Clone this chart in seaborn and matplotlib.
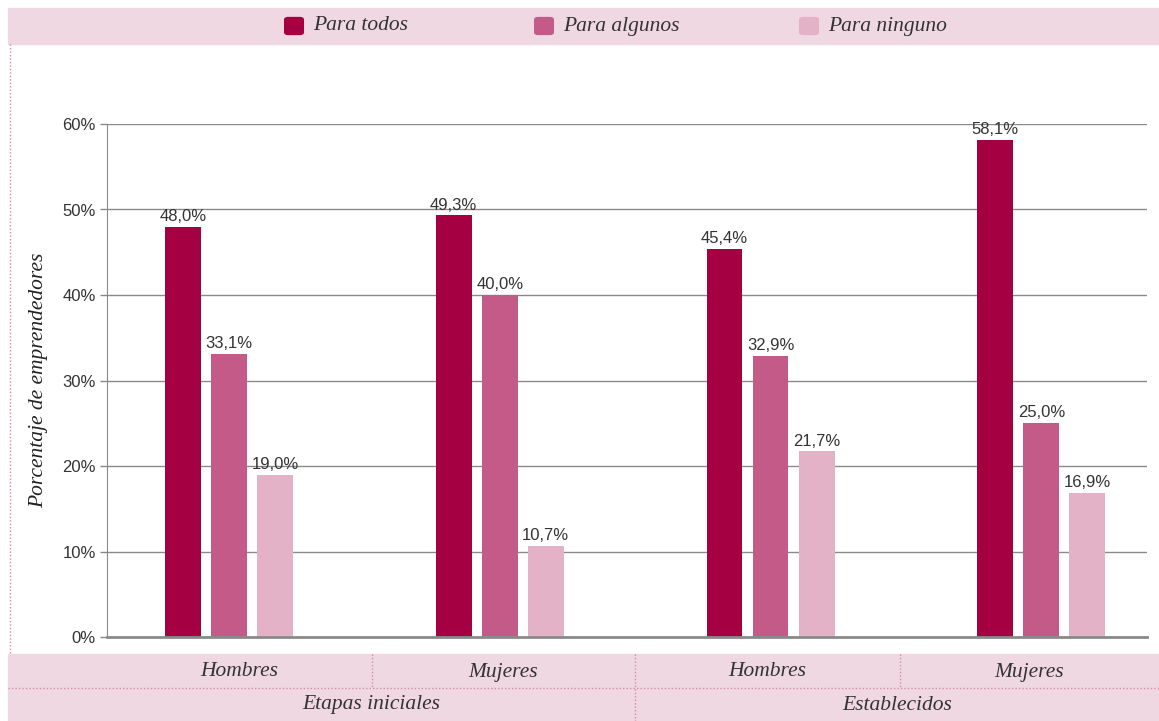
import matplotlib
matplotlib.use("Agg")
import matplotlib.pyplot as plt
from matplotlib.patches import Rectangle, FancyBboxPatch
from matplotlib.lines import Line2D
import seaborn as sns
import pandas as pd

# Data
grupos = ["Etapas iniciales - Hombres", "Etapas iniciales - Mujeres",
          "Establecidos - Hombres", "Establecidos - Mujeres"]
sexo = ["Hombres", "Mujeres", "Hombres", "Mujeres"]
etapas = ["Etapas iniciales", "Establecidos"]
series = ["Para todos", "Para algunos", "Para ninguno"]
para_todos = [48.0, 49.3, 45.4, 58.1]
para_algunos = [33.1, 40.0, 32.9, 25.0]
para_ninguno = [19.0, 10.7, 21.7, 16.9]
colores = ["#A50042", "#C45A88", "#E4B2C7"]
yticks = [0, 10, 20, 30, 40, 50, 60]

df = pd.DataFrame({
    "grupo": grupos * 3,
    "serie": [s for s in series for _ in grupos],
    "valor": para_todos + para_algunos + para_ninguno,
})

sns.set_style("white")
serif = ["Liberation Serif", "DejaVu Serif"]
sans = ["Liberation Sans", "DejaVu Sans"]
plt.rcParams["font.family"] = sans

W, H = 1159, 721
fig = plt.figure(figsize=(W / 100, H / 100), dpi=100)
ax = fig.add_axes([107 / W, 1 - 637 / H, (1147 - 107) / W, (637 - 124) / H])

sns.barplot(data=df, x="grupo", y="valor", hue="serie", order=grupos,
            hue_order=series, palette=colores, width=0.51, gap=0.22,
            saturation=1, legend=False, linewidth=0, ax=ax)

for cont, vals in zip(ax.containers, [para_todos, para_algunos, para_ninguno]):
    ax.bar_label(cont, labels=[f"{v:.1f}%".replace(".", ",") for v in vals],
                 padding=2, fontsize=12, color="#333333")

ax.set_xlim(-0.45, 3.39)
ax.set_ylim(0, 60)
ax.set_yticks(yticks)
ax.set_yticklabels([f"{t}%" for t in yticks], fontsize=12, color="#333333")
ax.yaxis.grid(True, color="#8a8a8a", linewidth=1)
ax.set_axisbelow(True)
ax.tick_params(axis="y", length=5, width=1, color="#8a8a8a", left=True, pad=3)
ax.set_xticks([])
ax.set_xlabel("")
ax.set_ylabel("Porcentaje de emprendedores", family=serif, style="italic",
              fontsize=15.5, color="#222222", labelpad=10)
for s in ["top", "right"]:
    ax.spines[s].set_visible(False)
ax.spines["left"].set_color("#8a8a8a")
ax.spines["bottom"].set_color("#8a8a8a")
ax.spines["bottom"].set_linewidth(2)

# Bands
band = "#F0D8E2"
dot = "#D48AA8"
def fx(x): return x / W
def fy(y): return 1 - y / H

fig.patches.append(Rectangle((fx(8), fy(44)), fx(W - 8), (44 - 8) / H,
                             transform=fig.transFigure, color=band, zorder=0))
fig.patches.append(Rectangle((fx(8), fy(721)), fx(W - 8), (721 - 654) / H,
                             transform=fig.transFigure, color=band, zorder=0))
lines = [
    ((10, 10), (44, 654)),
    ((8, W), (688, 688)),
    ((372, 372), (654, 688)),
    ((635, 635), (654, 721)),
    ((900, 900), (654, 688)),
]
for xs, ys in lines:
    fig.add_artist(Line2D([fx(x) for x in xs], [fy(y) for y in ys],
                          transform=fig.transFigure, color=dot,
                          linestyle=(0, (1, 1.5)), linewidth=1))

cells = [(107, 372), (372, 635), (635, 900), (900, W)]
for (a, b), s in zip(cells, sexo):
    fig.text(fx((a + b) / 2), fy(672), s, ha="center", va="center",
             family=serif, style="italic", fontsize=15.5, color="#333333")
for (a, b), e in zip([(107, 635), (635, W)], etapas):
    fig.text(fx((a + b) / 2), fy(705), e, ha="center", va="center",
             family=serif, style="italic", fontsize=15.5, color="#333333")

# Legend
leg_x = [285, 535, 800]
for x, s, c in zip(leg_x, series, colores):
    fig.patches.append(FancyBboxPatch((fx(x + 2), fy(33)), 14 / W, 14 / H,
                                      boxstyle="round,pad=0.002,rounding_size=0.003",
                                      transform=fig.transFigure, color=c))
    fig.text(fx(x + 28), fy(26), s, ha="left", va="center", family=serif,
             style="italic", fontsize=15.5, color="#333333")

plt.savefig("out.png", dpi=100)
